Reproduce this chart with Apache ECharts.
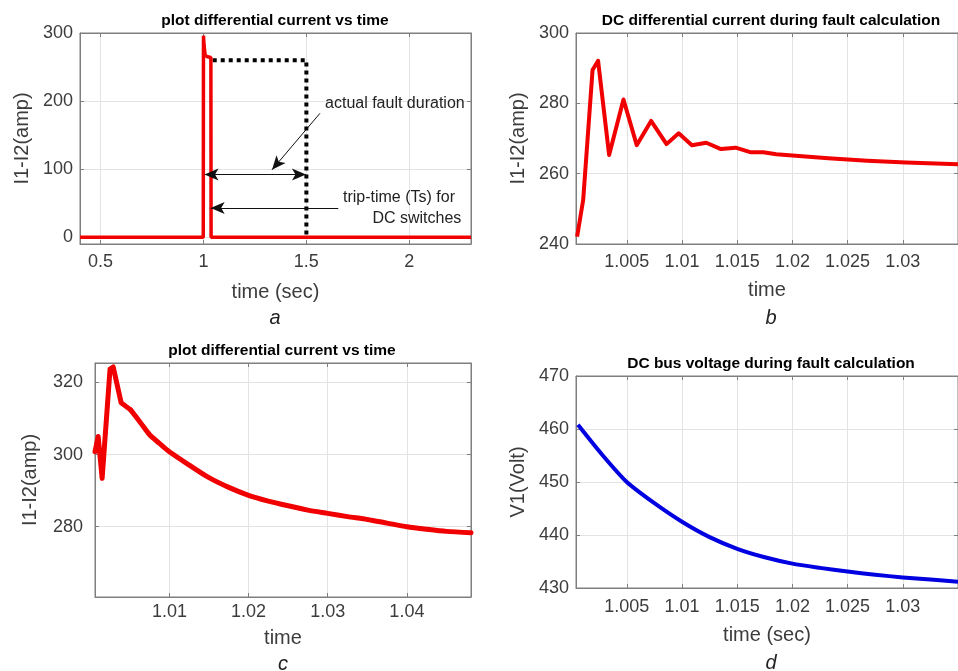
<!DOCTYPE html>
<html><head><meta charset="utf-8">
<script src="https://cdn.jsdelivr.net/npm/echarts@6/dist/echarts.min.js"></script>
<style>html,body{margin:0;padding:0;background:#fff}#c{width:958px;height:671px}</style>
</head><body><div id="c"></div>
<script>
// ---------- Panel a : differential current vs time (full run) ----------
const aTime    = [0.4, 0.999, 1.0, 1.003, 1.008, 1.02, 1.036, 1.037, 2.3];
const aCurrent = [0,   0,     296, 282,   267,   265,  264,   0,     0];
const aFaultTime  = [1.045, 1.5, 1.5];
const aFaultLevel = [260,   260, 0];
const aXTicks = [0.5, 1, 1.5, 2];
const aYTicks = [0, 100, 200, 300];

// ---------- Panel b : DC differential current during fault ----------
const bTime    = [1.0005, 1.00105, 1.0019, 1.0024, 1.0034, 1.0047, 1.0059, 1.0072, 1.0086, 1.0097, 1.0109, 1.0122, 1.01353, 1.01486, 1.01618, 1.01736, 1.01854, 1.02, 1.02325, 1.02678, 1.0303, 1.035];
const bCurrent = [242.1, 252.5, 289.5, 292.1, 265.3, 281.1, 268.1, 275.0, 268.4, 271.5, 268.1, 268.8, 267.0, 267.4, 266.1, 266.1, 265.5, 265.2, 264.4, 263.7, 263.2, 262.7];
const bXTicks = [1.005, 1.01, 1.015, 1.02, 1.025, 1.03];
const bYTicks = [240, 260, 280, 300];

// ---------- Panel c : differential current vs time (zoom) ----------
const cSpikeTime  = [1.0006, 1.001, 1.0015, 1.0025, 1.0029, 1.0039, 1.0051];
const cSpike      = [300.8, 305.0, 293.4, 323.7, 324.3, 314.4, 312.4];
const cDecayTime  = [1.0051, 1.0064, 1.0075, 1.00875, 1.01, 1.0125, 1.015, 1.0175, 1.02, 1.0225, 1.025, 1.0275, 1.03, 1.0325, 1.035, 1.0375, 1.04, 1.0425, 1.045, 1.0481];
const cDecay      = [312.4, 308.7, 305.5, 303.1, 300.8, 297.1, 293.6, 290.9, 288.7, 287.1, 285.8, 284.6, 283.7, 282.8, 282.0, 281.0, 280.0, 279.3, 278.7, 278.3];
const cXTicks = [1.01, 1.02, 1.03, 1.04];
const cYTicks = [280, 300, 320];

// ---------- Panel d : DC bus voltage during fault ----------
const dTime    = [1.00058, 1.00279, 1.005, 1.0075, 1.01, 1.0125, 1.015, 1.0175, 1.02, 1.0225, 1.025, 1.0275, 1.03, 1.0325, 1.035];
const dVoltage = [460.8, 455.1, 450.0, 446.0, 442.5, 439.6, 437.4, 435.8, 434.6, 433.8, 433.1, 432.5, 432.0, 431.6, 431.2];
const dXTicks = [1.005, 1.01, 1.015, 1.02, 1.025, 1.03];
const dYTicks = [430, 440, 450, 460, 470];

const zip = (xs, ys) => xs.map((x, i) => [x, ys[i]]);
const FONT = '"Liberation Sans", Arial, Helvetica, sans-serif';
const AX = '#7f7f7f', GRIDC = '#e3e3e3', TXT = '#3c3c3c';

const xAxes = [], yAxes = [];
function addPanel(gi, xc, yc) {
  const xi = xAxes.length, yi = yAxes.length;
  const line = {onZero: false, lineStyle: {color: AX, width: 1}};
  const tick = {inside: true, length: 4, lineStyle: {color: AX}};
  const xb = {type: 'value', gridIndex: gi, min: xc.min, max: xc.max, minInterval: xc.step, maxInterval: xc.step, axisLine: line, axisTick: tick};
  const yb = {type: 'value', gridIndex: gi, min: yc.min, max: yc.max, minInterval: yc.step, maxInterval: yc.step, axisLine: line, axisTick: tick};
  xAxes.push(Object.assign({}, xb, {
    position: 'bottom',
    splitLine: {show: true, lineStyle: {color: GRIDC}},
    axisLabel: {fontSize: 18, color: TXT, fontFamily: FONT, margin: xc.margin,
      showMinLabel: xc.ticks.includes(xc.min), showMaxLabel: xc.ticks.includes(xc.max)},
    name: xc.name, nameLocation: 'middle', nameGap: xc.gap,
    nameTextStyle: {fontSize: 20, color: TXT, fontFamily: FONT}
  }));
  xAxes.push(Object.assign({}, xb, {position: 'top', axisLabel: {show: false}, splitLine: {show: false}}));
  yAxes.push(Object.assign({}, yb, {
    position: 'left',
    splitLine: {show: true, lineStyle: {color: GRIDC}},
    axisLabel: {fontSize: 18, color: TXT, fontFamily: FONT, margin: yc.margin,
      showMinLabel: yc.ticks.includes(yc.min), showMaxLabel: yc.ticks.includes(yc.max)},
    name: yc.name, nameLocation: 'middle', nameGap: yc.gap,
    nameTextStyle: {fontSize: 20, color: TXT, fontFamily: FONT}
  }));
  yAxes.push(Object.assign({}, yb, {position: 'right', axisLabel: {show: false}, splitLine: {show: false}}));
  return {xAxisIndex: xi, yAxisIndex: yi};
}

const grids = [
  {left: 80,  top: 33,  width: 391, height: 211},
  {left: 576, top: 33,  width: 391, height: 211},
  {left: 95,  top: 363, width: 376, height: 234},
  {left: 576, top: 376, width: 391, height: 212}
];

const pa = addPanel(0, {min: 0.4, max: 2.3, step: 0.5, ticks: aXTicks, margin: 9, name: 'time (sec)', gap: 38},
                       {min: -10, max: 300, step: 100, ticks: aYTicks, margin: 7, name: 'I1-I2(amp)', gap: 48});
const pb = addPanel(1, {min: 1.0004, max: 1.035, step: 0.005, ticks: bXTicks, margin: 9, name: 'time', gap: 36},
                       {min: 240, max: 300, step: 20, ticks: bYTicks, margin: 7, name: 'I1-I2(amp)', gap: 48});
const pc = addPanel(2, {min: 1.0006, max: 1.0481, step: 0.01, ticks: cXTicks, margin: 6, name: 'time', gap: 31},
                       {min: 260.5, max: 325.4, step: 20, ticks: cYTicks, margin: 12, name: 'I1-I2(amp)', gap: 55});
const pd = addPanel(3, {min: 1.0004, max: 1.035, step: 0.005, ticks: dXTicks, margin: 10, name: 'time (sec)', gap: 37},
                       {min: 430, max: 470, step: 10, ticks: dYTicks, margin: 7, name: 'V1(Volt)', gap: 48});

const annText = {show: true, position: 'inside', color: '#222', fontSize: 16, fontFamily: FONT, formatter: '{b}'};

const series = [
  Object.assign({type: 'line', data: zip(aFaultTime, aFaultLevel), symbol: 'none', z: 2,
    lineStyle: {color: '#000', width: 4, type: [4, 4], cap: 'butt'},
    markLine: {silent: true, symbolSize: [9, 14], label: {show: false},
      lineStyle: {color: '#111', width: 1, type: 'solid'},
      data: [
        [{coord: [1.566, 182], symbol: 'none'}, {coord: [1.333, 99], symbol: 'arrow'}],
        [{coord: [1.005, 92], symbol: 'arrow'}, {coord: [1.498, 92], symbol: 'arrow'}],
        [{coord: [1.655, 43], symbol: 'none'}, {coord: [1.035, 43], symbol: 'arrow'}]
      ]},
    markPoint: {silent: true, symbol: 'rect', symbolSize: 1, itemStyle: {color: 'rgba(0,0,0,0)'}, label: annText,
      data: [
        {name: 'actual fault duration', coord: [1.93, 197]},
        {name: 'trip-time (Ts) for', coord: [1.95, 58]},
        {name: 'DC switches', coord: [2.037, 27]}
      ]}
  }, pa),
  Object.assign({type: 'line', data: zip(aTime, aCurrent), symbol: 'none', z: 3,
    lineStyle: {color: '#f00000', width: 3.5}}, pa),
  Object.assign({type: 'line', data: zip(bTime, bCurrent), symbol: 'none',
    lineStyle: {color: '#f00000', width: 4, join: 'round'}}, pb),
  Object.assign({type: 'line', data: zip(cSpikeTime, cSpike), symbol: 'none',
    lineStyle: {color: '#f00000', width: 5, join: 'round', cap: 'round'}}, pc),
  Object.assign({type: 'line', data: zip(cDecayTime, cDecay), symbol: 'none', smooth: 0.25,
    lineStyle: {color: '#f00000', width: 5, join: 'round', cap: 'round'}}, pc),
  Object.assign({type: 'line', data: zip(dTime, dVoltage), symbol: 'none', smooth: 0.25,
    lineStyle: {color: '#0000e0', width: 4, join: 'round'}}, pd)
];

function txt(x, y, s, font, fill) {
  return {type: 'text', x: x, y: y, silent: true,
    style: {text: s, font: font, fill: fill, align: 'center', verticalAlign: 'middle', textAlign: 'center', textVerticalAlign: 'middle'}};
}
const TF = 'bold 15.5px ' + FONT, LF = 'italic 20px ' + FONT;
const graphics = [
  txt(275, 21, 'plot differential current vs time', TF, '#000'),
  txt(771, 21, 'DC differential current during fault calculation', TF, '#000'),
  txt(282, 351, 'plot differential current vs time', TF, '#000'),
  txt(771, 364, 'DC bus voltage during fault calculation', TF, '#000'),
  txt(275, 318, 'a', LF, '#222'),
  txt(771, 318, 'b', LF, '#222'),
  txt(283, 664, 'c', LF, '#222'),
  txt(771, 663, 'd', LF, '#222')
];

const chart = echarts.init(document.getElementById('c'), null, {renderer: 'canvas'});
chart.setOption({
  animation: false,
  backgroundColor: '#fff',
  textStyle: {fontFamily: FONT},
  grid: grids.map(g => Object.assign({show: true, borderColor: AX, borderWidth: 1, backgroundColor: '#fff'}, g)),
  xAxis: xAxes,
  yAxis: yAxes,
  series: series,
  graphic: graphics
});
</script>
</body></html>
